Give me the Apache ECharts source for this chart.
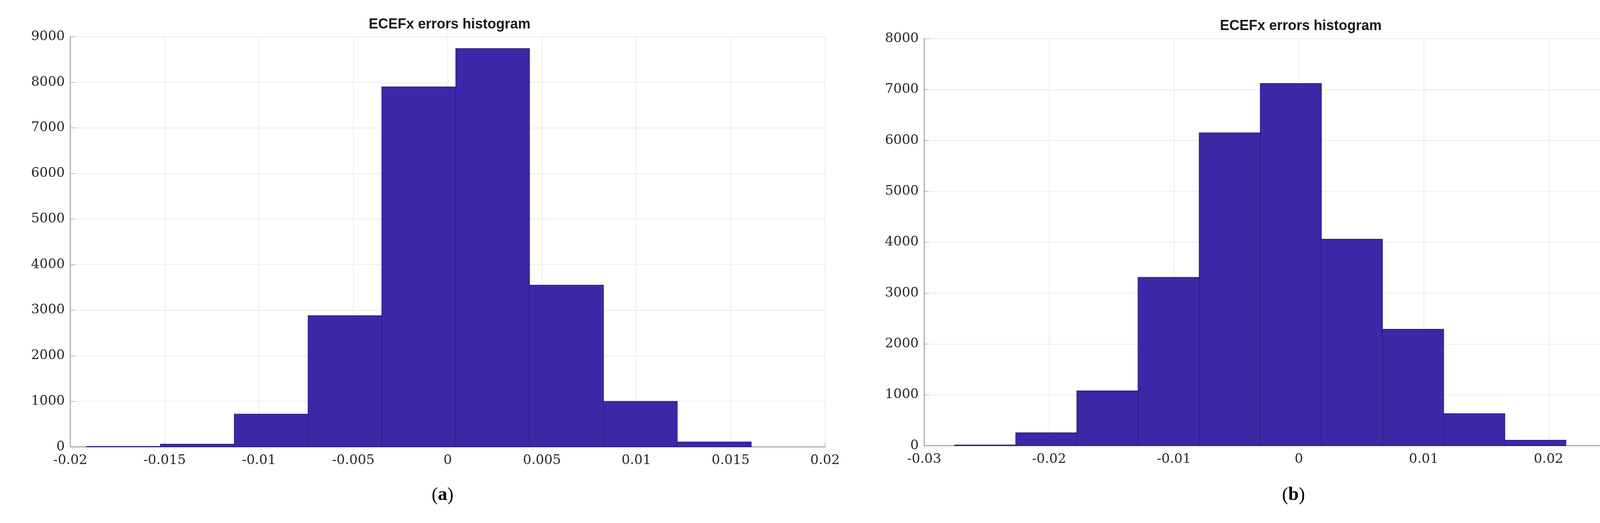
<!DOCTYPE html>
<html>
<head>
<meta charset="utf-8">
<script src="https://cdn.jsdelivr.net/npm/echarts@6/dist/echarts.min.js"></script>
</head>
<body style="margin:0;background:#fff">
<div id="main" style="width:4329px;height:1340px;"></div>
<script>
// (a) bin edges and counts
var edgesA = [-0.01914, -0.01523, -0.01131, -0.0074, -0.00349, 0.00043, 0.00434, 0.00826, 0.01217, 0.01609];
var countsA = [10, 60, 720, 2880, 7900, 8740, 3550, 1000, 110];
// (b)
var edgesB = [-0.02757, -0.02267, -0.01778, -0.01288, -0.00798, -0.00309, 0.00181, 0.0067, 0.0116, 0.0165, 0.02139];
var countsB = [15, 255, 1080, 3310, 6150, 7120, 4060, 2290, 630, 110];

function binData(edges, counts) {
    var d = [];
    for (var i = 0; i < counts.length; i++) d.push([edges[i], edges[i + 1], counts[i]]);
    return d;
}

function renderBin(params, api) {
    var p0 = api.coord([api.value(0), api.value(2)]);
    var p1 = api.coord([api.value(1), 0]);
    return {
        type: 'rect',
        shape: { x: p0[0], y: p0[1], width: p1[0] - p0[0], height: p1[1] - p0[1] },
        style: { fill: '#3d27a6', stroke: '#2b1d7a', lineWidth: 1.5 }
    };
}

var axisFont = { fontFamily: 'DejaVu Serif', fontSize: 34, color: '#262626' };

function xAxis(idx, min, max, step) {
    return {
        type: 'value', gridIndex: idx, min: min, max: max, interval: step,
        axisLine: { show: true, onZero: false, lineStyle: { color: '#8c8c8c', width: 2 } },
        axisTick: { inside: true, length: 12, lineStyle: { color: '#8c8c8c' } },
        axisLabel: Object.assign({ margin: 18, showMaxLabel: true, showMinLabel: true,
            formatter: function (v) { return String(+v.toFixed(4)); } }, axisFont),
        splitLine: { show: true, lineStyle: { color: '#ececec', width: 2 } }
    };
}
function yAxis(idx, max) {
    return {
        type: 'value', gridIndex: idx, min: 0, max: max, interval: 1000,
        axisLine: { show: true, onZero: false, lineStyle: { color: '#8c8c8c', width: 2 } },
        axisTick: { inside: true, length: 12, lineStyle: { color: '#8c8c8c' } },
        axisLabel: Object.assign({ margin: 14, formatter: function (v) { return String(v); } }, axisFont),
        splitLine: { show: true, lineStyle: { color: '#ececec', width: 2 } }
    };
}

var chart = echarts.init(document.getElementById('main'));
chart.setOption({
    backgroundColor: '#fff',
    animation: false,
    title: [
        { text: 'ECEFx errors histogram', left: 1146, top: 40, textAlign: 'center',
          textStyle: { fontFamily: 'Liberation Sans', fontWeight: 'bold', fontSize: 36, color: '#1a1a1a' } },
        { text: 'ECEFx errors histogram', left: 3325, top: 44, textAlign: 'center',
          textStyle: { fontFamily: 'Liberation Sans', fontWeight: 'bold', fontSize: 36, color: '#1a1a1a' } }
    ],
    grid: [
        { left: 180, top: 94, width: 1932, height: 1051, show: true, borderColor: '#8c8c8c', borderWidth: 2 },
        { left: 2366, top: 99, width: 1918, height: 1043, show: true, borderColor: '#8c8c8c', borderWidth: 2 }
    ],
    xAxis: [xAxis(0, -0.02, 0.02, 0.005), xAxis(1, -0.03, 0.03, 0.01)],
    yAxis: [yAxis(0, 9000), yAxis(1, 8000)],
    series: [
        { type: 'custom', xAxisIndex: 0, yAxisIndex: 0, renderItem: renderBin,
          encode: { x: [0, 1], y: 2 }, data: binData(edgesA, countsA) },
        { type: 'custom', xAxisIndex: 1, yAxisIndex: 1, renderItem: renderBin,
          encode: { x: [0, 1], y: 2 }, data: binData(edgesB, countsB) }
    ],
    graphic: [
        { type: 'text', left: 1105, top: 1245, style: { rich: { p: { fontFamily: 'Liberation Serif', fontSize: 48, fill: '#000' }, b: { fontFamily: 'Liberation Serif', fontSize: 48, fontWeight: 'bold', fill: '#000' } }, text: '{p|(}{b|a}{p|)}' } },
        { type: 'text', left: 3282, top: 1245, style: { rich: { p: { fontFamily: 'Liberation Serif', fontSize: 48, fill: '#000' }, b: { fontFamily: 'Liberation Serif', fontSize: 48, fontWeight: 'bold', fill: '#000' } }, text: '{p|(}{b|b}{p|)}' } }
    ]
});
</script>
</body>
</html>
